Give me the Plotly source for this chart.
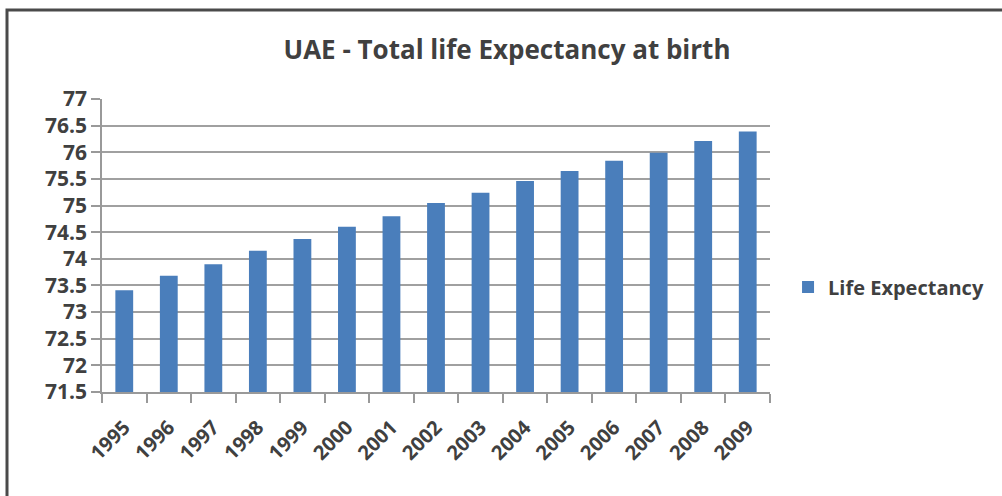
import plotly.graph_objects as go

years = ["1995", "1996", "1997", "1998", "1999", "2000", "2001", "2002",
         "2003", "2004", "2005", "2006", "2007", "2008", "2009"]
life_expectancy = [73.41, 73.68, 73.90, 74.15, 74.37, 74.60, 74.80, 75.05,
                   75.24, 75.46, 75.65, 75.84, 75.99, 76.21, 76.39]
y_ticks = [71.5, 72, 72.5, 73, 73.5, 74, 74.5, 75, 75.5, 76, 76.5, 77]
y_tick_labels = ["71.5", "72", "72.5", "73", "73.5", "74", "74.5", "75",
                 "75.5", "76", "76.5", "77"]

FONT = "Open Sans"
TXT = "#404040"

fig = go.Figure()
fig.add_trace(go.Bar(
    x=years, y=life_expectancy, name="Life Expectancy",
    marker=dict(color="#4A7EBB", line=dict(width=0)),
    showlegend=True,
))

fig.update_layout(
    width=1002, height=496,
    margin=dict(l=102, r=232, t=99, b=104),
    paper_bgcolor="white", plot_bgcolor="white",
    bargap=0.6,
    title=dict(text="UAE - Total life Expectancy at birth",
               x=0.506, xanchor="center", y=0.9, yanchor="middle",
               font=dict(family=FONT, size=26, color=TXT, weight="bold")),
    font=dict(family=FONT, color=TXT),
    showlegend=True,
    legend=dict(x=1.027, y=0.358, xanchor="left", yanchor="middle",
                font=dict(family=FONT, size=20, color=TXT, weight="bold"),
                itemwidth=30, bgcolor="rgba(0,0,0,0)"),
    xaxis=dict(
        type="category", tickangle=-45,
        tickfont=dict(family=FONT, size=20, color=TXT, weight="bold"),
        ticks="outside", ticklen=9, tickcolor="#999999", tickwidth=1.5,
        tickson="boundaries", ticklabelstandoff=14,
        showline=True, linecolor="#999999", linewidth=1.5,
        showgrid=False,
    ),
    yaxis=dict(
        range=[71.5, 77], tickvals=y_ticks, ticktext=y_tick_labels,
        tickfont=dict(family=FONT, size=21, color=TXT, weight="bold"),
        ticks="outside", ticklen=9, tickcolor="#999999", tickwidth=1.5,
        showline=True, linecolor="#999999", linewidth=1.5,
        showgrid=True, gridcolor="#A0A0A0", gridwidth=1.5,
        zeroline=False,
    ),
)

# outer chart border (left and top visible)
fig.add_shape(type="rect", xref="paper", yref="paper",
              x0=(7 - 102) / 668, x1=2.0,
              y0=-1.0, y1=(392 - 10) / 293,
              line=dict(color="#4a4a4a", width=3), layer="below")

fig.write_html("out.html", config={"displayModeBar": False},
               post_script="document.body.style.margin='0';document.body.style.padding='0';")
